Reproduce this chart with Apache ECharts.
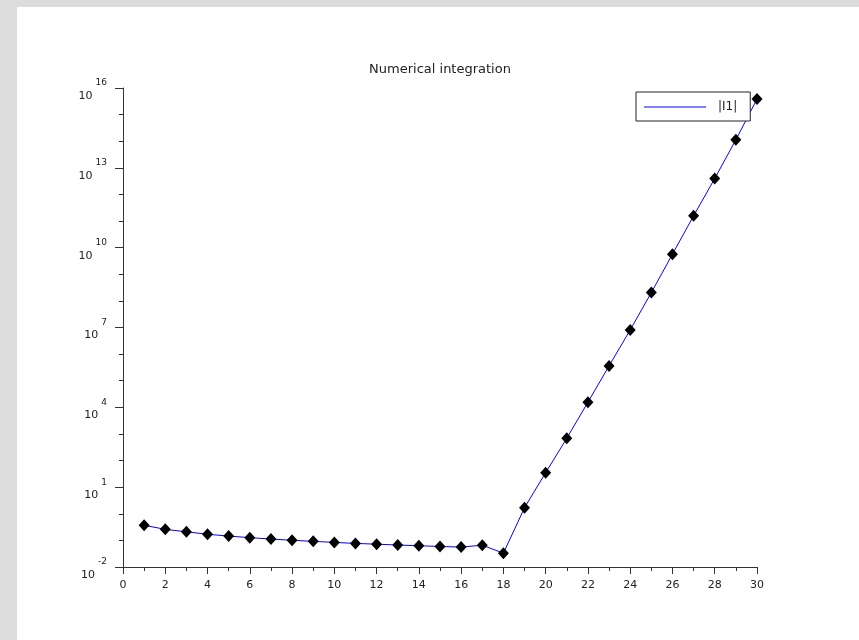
<!DOCTYPE html>
<html>
<head>
<meta charset="utf-8">
<script src="https://cdn.jsdelivr.net/npm/echarts@6/dist/echarts.min.js"></script>
<style>
  html, body { margin: 0; padding: 0; width: 859px; height: 640px; background: #dcdcdc; overflow: hidden; }
  #paper { position: absolute; left: 17px; top: 7px; right: 0; bottom: 0; background: #ffffff; }
  #chart { position: absolute; left: 0; top: 0; width: 859px; height: 640px; }
</style>
</head>
<body>
<div id="paper"></div>
<div id="chart"></div>
<script>
// ---- data ----
const xValues = [1, 2, 3, 4, 5, 6, 7, 8, 9, 10, 11, 12, 13, 14, 15, 16, 17, 18, 19, 20, 21, 22, 23, 24, 25, 26, 27, 28, 29, 30];
const absI1 = [0.37, 0.26, 0.21, 0.17, 0.145, 0.127, 0.112, 0.101, 0.092, 0.084, 0.077, 0.072, 0.067, 0.063, 0.059, 0.056, 0.066, 0.033,
               1.69, 35.1, 689, 1.56e4, 3.6e5, 8.1e6, 2.05e8, 5.7e9, 1.57e11, 3.96e12, 1.13e14, 3.83e15];
const xTickValues = [0, 2, 4, 6, 8, 10, 12, 14, 16, 18, 20, 22, 24, 26, 28, 30];
const yExponents = [-2, 1, 4, 7, 10, 13, 16];
const titleText = 'Numerical integration';
const seriesName = '|I1|';

const FONT = 'DejaVu Sans';
const seriesData = xValues.map((x, i) => [x, absI1[i]]);
const yMin = Math.pow(10, yExponents[0]);
const yMax = Math.pow(10, yExponents[yExponents.length - 1]);

const chart = echarts.init(document.getElementById('chart'), null, { renderer: 'canvas' });
chart.setOption({
  animation: false,
  backgroundColor: 'transparent',
  title: {
    text: titleText,
    left: 435,
    top: 58,
    textAlign: 'center',
    textStyle: { fontFamily: FONT, fontSize: 13, fontWeight: 'normal', color: '#222' }
  },
  legend: {
    left: 636,
    top: 92,
    orient: 'vertical',
    selectedMode: false,
    backgroundColor: '#ffffff',
    borderColor: '#222',
    borderWidth: 1,
    borderRadius: 0,
    padding: [9, 13, 8, 8],
    itemWidth: 62,
    itemHeight: 1,
    data: [{ name: seriesName, icon: 'rect', itemStyle: { color: '#0000ff' } }],
    textStyle: { fontFamily: FONT, fontSize: 12, color: '#222', padding: [0, 0, 0, 7] }
  },
  grid: { left: 123, right: 102, top: 88, bottom: 73, containLabel: false },
  xAxis: {
    type: 'value',
    min: xTickValues[0],
    max: xTickValues[xTickValues.length - 1],
    interval: xTickValues[1] - xTickValues[0],
    axisLine: { show: true, onZero: false, lineStyle: { color: '#333', width: 1 } },
    axisTick: { show: true, length: 7, lineStyle: { color: '#333', width: 1 } },
    minorTick: { show: true, splitNumber: 2, length: 4, lineStyle: { color: '#333', width: 1 } },
    splitLine: { show: false },
    axisLabel: { margin: 13, fontFamily: FONT, fontSize: 11, color: '#222' }
  },
  yAxis: [
    {
      type: 'log',
      logBase: 10,
      min: yMin,
      max: yMax,
      interval: yExponents[1] - yExponents[0],
      axisLine: { show: true, lineStyle: { color: '#333', width: 1 } },
      axisTick: { show: true, length: 8, lineStyle: { color: '#333', width: 1 } },
      splitLine: { show: false },
      axisLabel: {
        margin: 16,
        fontFamily: FONT,
        color: '#222',
        formatter: function (v) {
          const e = Math.round(Math.log10(v));
          return '{b|10}{s|' + e + '}';
        },
        rich: {
          b: { fontFamily: FONT, fontSize: 11, color: '#222', lineHeight: 27, verticalAlign: 'bottom' },
          s: { fontFamily: FONT, fontSize: 9, color: '#222', lineHeight: 20, verticalAlign: 'top', padding: [4, 0, 0, 3] }
        }
      }
    },
    {
      type: 'log',
      logBase: 10,
      min: yMin,
      max: yMax,
      interval: 1,
      position: 'left',
      offset: 0,
      axisLine: { show: false },
      axisTick: { show: true, length: 4, lineStyle: { color: '#333', width: 1 } },
      splitLine: { show: false },
      axisLabel: { show: false }
    }
  ],
  series: [
    {
      name: seriesName,
      type: 'line',
      yAxisIndex: 0,
      data: seriesData,
      symbol: 'diamond',
      symbolSize: [11, 12],
      showAllSymbol: true,
      lineStyle: { color: '#0000ff', width: 1 },
      itemStyle: { color: '#000000' },
      emphasis: { disabled: true },
      z: 2
    }
  ]
});
</script>
</body>
</html>
